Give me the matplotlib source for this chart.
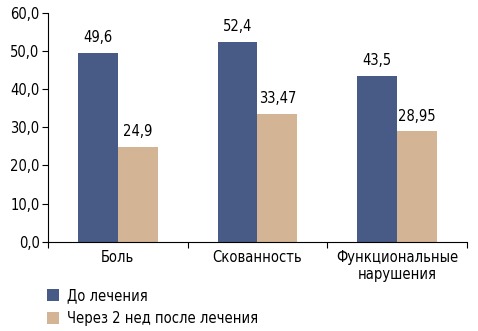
import matplotlib.pyplot as plt
import numpy as np

categories = ["Боль", "Скованность", "Функциональные\nнарушения"]
before = [49.6, 52.4, 43.5]
after = [24.9, 33.47, 28.95]
before_labels = ["49,6", "52,4", "43,5"]
after_labels = ["24,9", "33,47", "28,95"]
series_names = ["До лечения", "Через 2 нед после лечения"]

plt.rcParams["font.family"] = ["DejaVu Sans"]
plt.rcParams["font.stretch"] = "condensed"
plt.rcParams["font.size"] = 10.5

blue = "#485B87"
tan = "#D3B595"

fig = plt.figure(figsize=(4.78, 3.31), dpi=100)
ax = fig.add_axes([0.1004, 0.270, 0.8766, 0.6907])

x = np.arange(len(categories))
w = 0.286
b1 = ax.bar(x - w / 2, before, w, color=blue, label=series_names[0])
b2 = ax.bar(x + w / 2, after, w, color=tan, label=series_names[1])

for bars, labels in [(b1, before_labels), (b2, after_labels)]:
    for rect, lab in zip(bars, labels):
        ax.text(rect.get_x() + rect.get_width() / 2, rect.get_height() + 2.0, lab,
                ha="center", va="bottom")

ax.set_xlim(-0.5, len(categories) - 0.5)
ax.set_ylim(0, 60)
ax.set_yticks(np.arange(0, 61, 10))
ax.set_yticklabels([f"{v:.1f}".replace(".", ",") for v in np.arange(0, 61, 10)])
ax.set_xticks(np.arange(-0.5, len(categories), 1.0))
ax.set_xticklabels([])
ax.set_xticks(x, minor=True)
ax.set_xticklabels(categories, minor=True)
ax.tick_params(axis="x", which="minor", length=0, pad=6)
ax.tick_params(axis="x", which="major", length=4, direction="out")
ax.tick_params(axis="y", length=4, direction="out", pad=2)
ax.spines["top"].set_visible(False)
ax.spines["right"].set_visible(False)

fig.legend(loc="lower left", bbox_to_anchor=(0.07, -0.025), frameon=False,
           handlelength=0.85, handleheight=0.85, handletextpad=0.55,
           labelspacing=0.55)

fig.savefig("out.png", dpi=100)
